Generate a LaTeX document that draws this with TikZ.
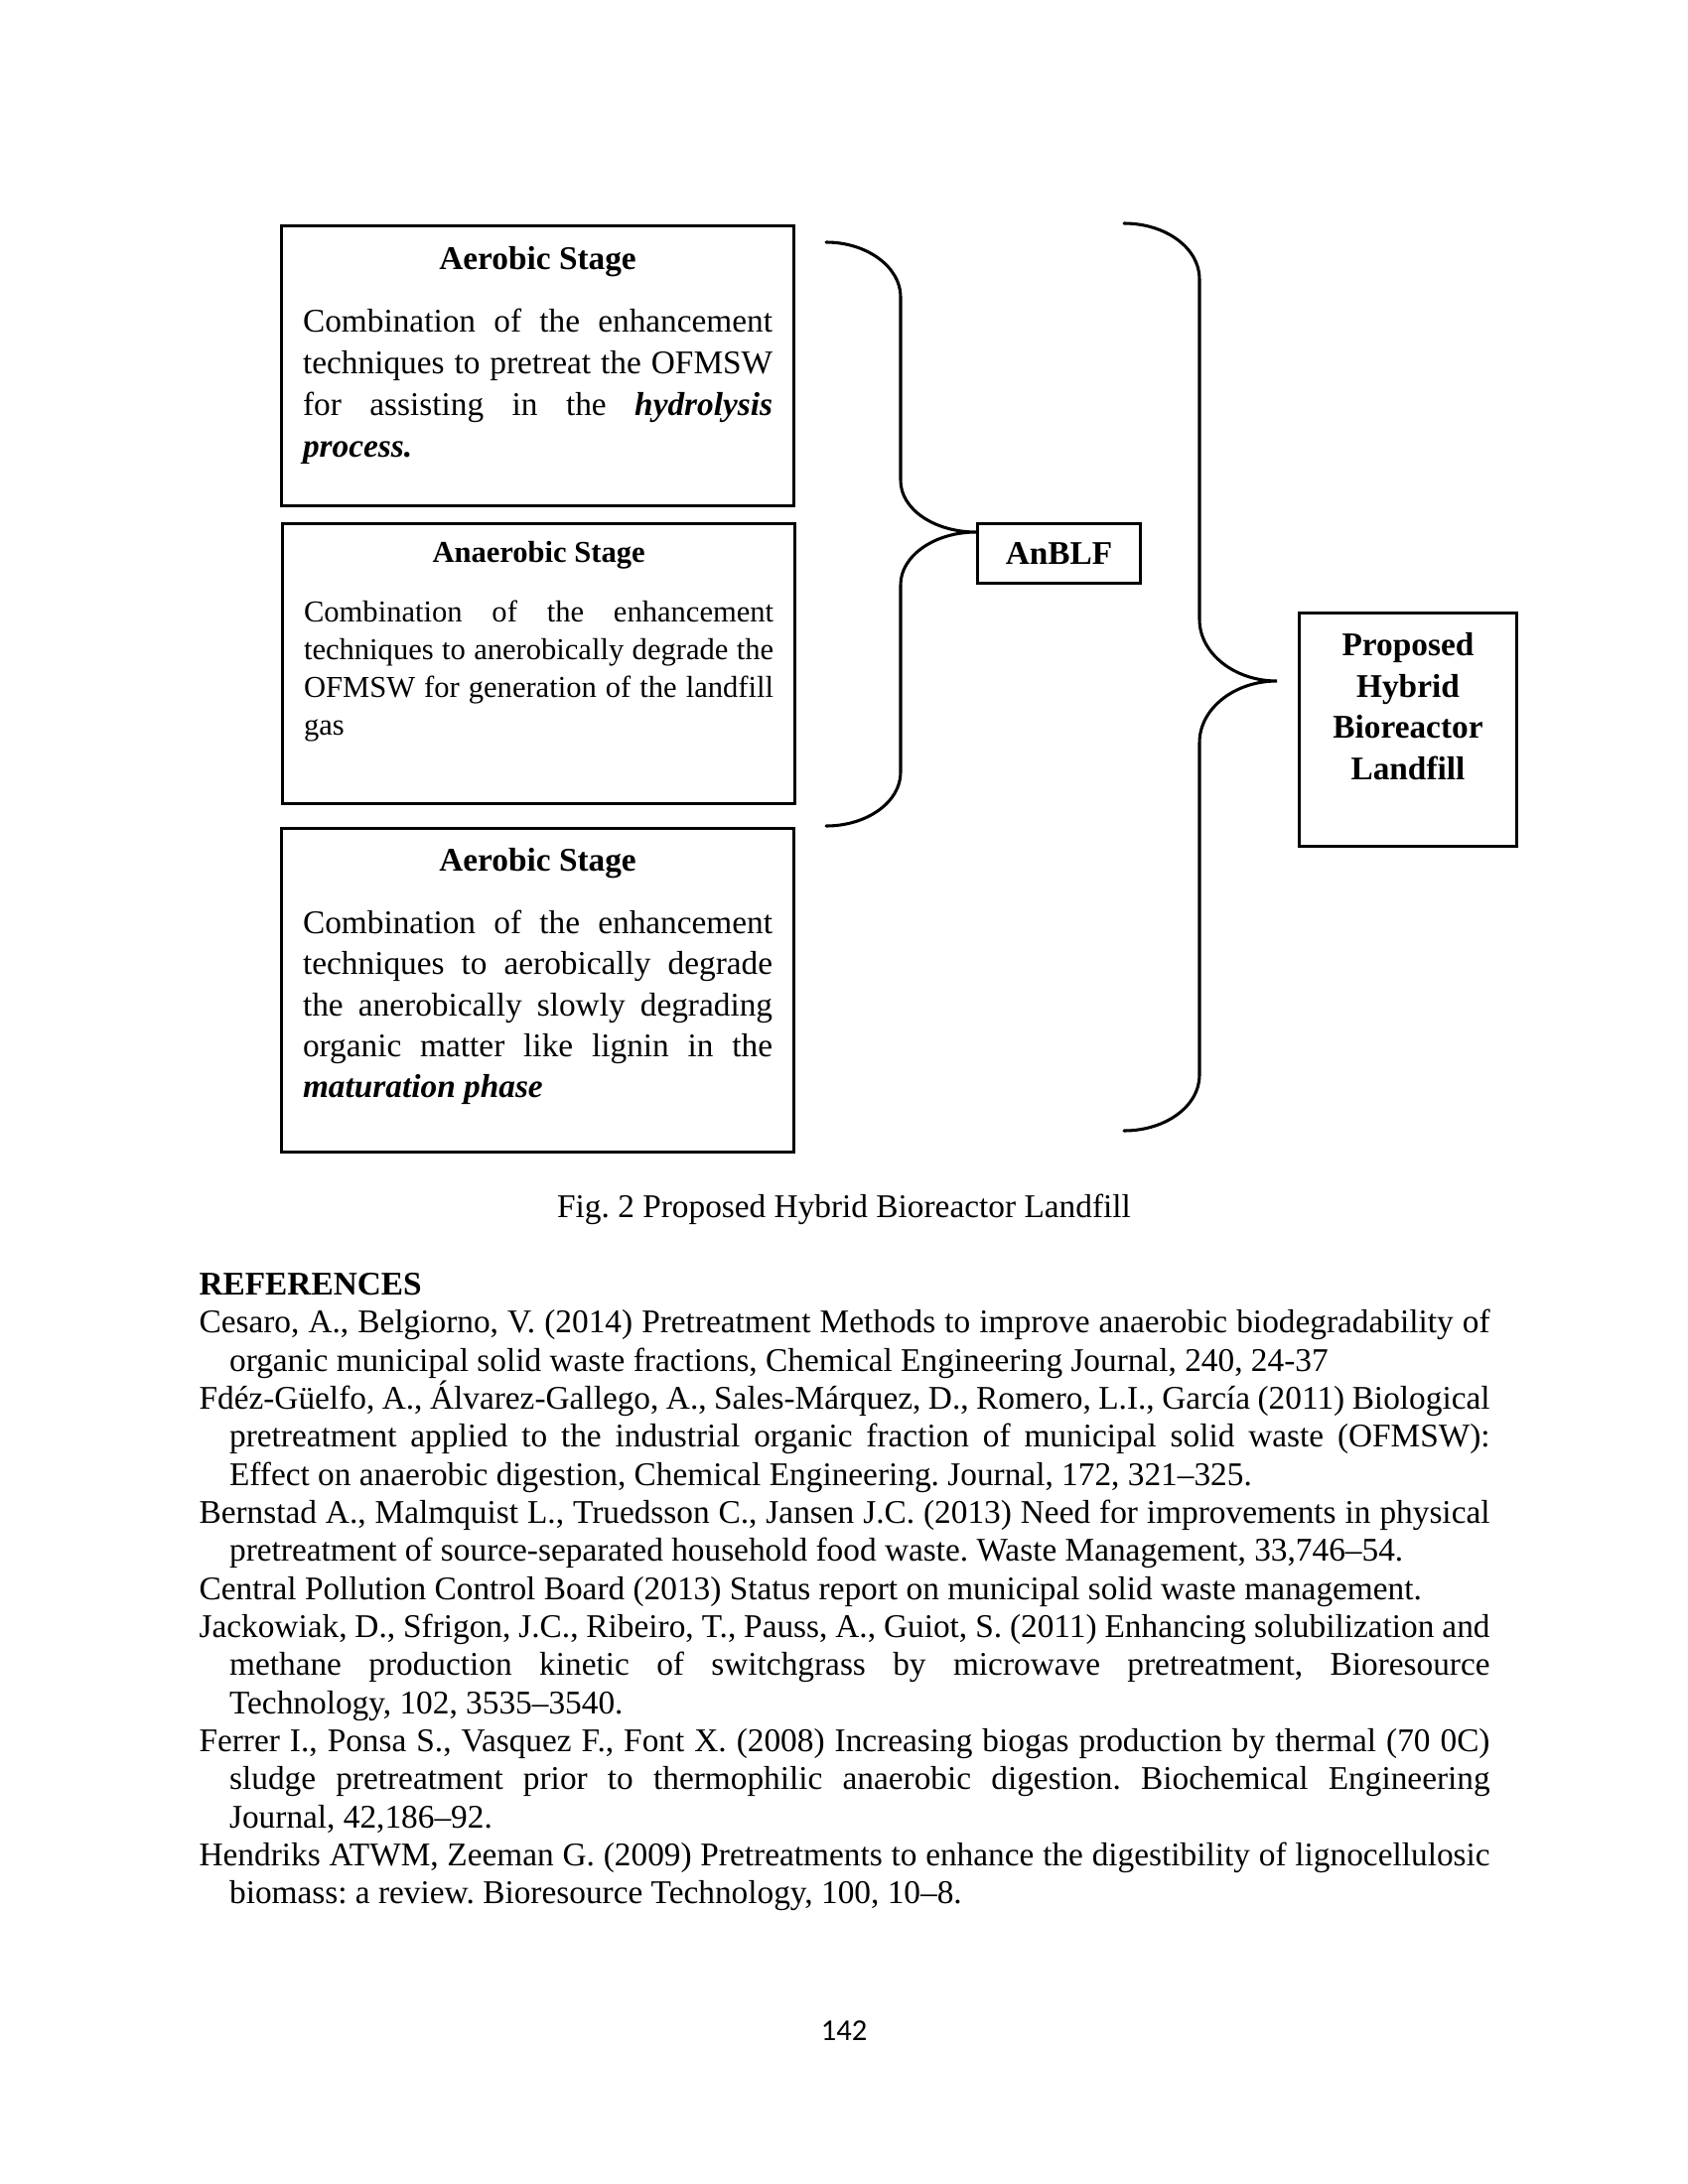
\documentclass[tikz,border=0pt]{standalone}
\usepackage{fontspec}
\setmainfont{Liberation Serif}
\newfontfamily\pagenofont{Carlito}
\usetikzlibrary{calc}
\frenchspacing

\newcommand{\bfit}[1]{\textbf{\textit{#1}}}
% stage box content: height, size, leading, title strut, gap, title, body
\newcommand{\stagecontent}[7]{\parbox[t][#1][t]{170.3pt}{\fontsize{#2}{#3}\selectfont
  {\centering\rule{0pt}{#4}\textbf{#6}\par}\vspace{#5}#7\par}}
\newcommand{\refentry}[1]{\noindent\hangindent=11pt\hangafter=1 #1\par}

\begin{document}
\begin{tikzpicture}[x=0.36pt, y=-0.36pt,
  font=\fontsize{12}{13.8}\selectfont,
  stagebox/.style={draw, line width=1.1pt, inner xsep=7.75pt, inner ysep=0pt,
                   anchor=north west},
  resultbox/.style={draw, line width=1.1pt, inner sep=0pt, anchor=north west,
                    font=\bfseries\fontsize{12}{15}\selectfont},
  brace/.style={line width=1.1pt, line cap=round},
  plain/.style={inner sep=0pt, anchor=base},
]
\useasboundingbox (0,0) rectangle (1700,2200);

%-- LEFT: the three stages
\node[stagebox] (aer1) at (282,226) {\stagecontent{101.5pt}{12}{15.1}{15.8pt}{7.6pt}
  {Aerobic Stage}
  {Combination of the enhancement\linebreak techniques to pretreat the OFMSW\linebreak
   for assisting in the \bfit{hydrolysis}\linebreak \bfit{process.}}};

\node[stagebox] (anaer) at (283,526) {\stagecontent{101.5pt}{11}{13.6}{13.9pt}{8.3pt}
  {Anaerobic Stage}
  {Combination of the enhancement\linebreak techniques to anerobically degrade the\linebreak
   OFMSW for generation of the landfill\linebreak gas}};

\node[stagebox] (aer2) at (282,833) {\stagecontent{117.4pt}{12}{14.9}{15.4pt}{7.8pt}
  {Aerobic Stage}
  {Combination of the enhancement\linebreak techniques to aerobically degrade\linebreak
   the anerobically slowly degrading\linebreak organic matter like lignin in the\linebreak
   \bfit{maturation phase}}};

%-- RIGHT: results
\node[resultbox, minimum width=59pt, minimum height=21.6pt] (anblf) at (983,526) {AnBLF};
\node[resultbox] (hybrid) at (1307,616)
  {\parbox[t][84.6pt][t]{78.8pt}{\centering\rule{0pt}{15.5pt}Proposed\\Hybrid\\Bioreactor\\Landfill}};

%-- Braces
\coordinate (sbtop) at (832,244);
\coordinate (sbbot) at (832,832);
\coordinate (sbtip) at ($(anblf.north west)+(0,10)$);
\coordinate (bbtop) at (1132,225);
\coordinate (bbbot) at (1132,1139);
\coordinate (bbtip) at ($(hybrid.north west)+(-21,70)$);

\draw[brace] (sbtop) .. controls (873,244) and (907,269) .. (907,299)
  -- (907,484) .. controls (907,513) and (941,536) .. (sbtip)
  .. controls (941,536) and (907,560) .. (907,589)
  -- (907,778) .. controls (907,808) and (873,832) .. (sbbot);
\draw[brace] (bbtop) .. controls (1174,225) and (1208,250) .. (1208,281)
  -- (1208,624) .. controls (1208,658) and (1243,686) .. (bbtip)
  .. controls (1243,686) and (1208,714) .. (1208,748)
  -- (1208,1083) .. controls (1208,1114) and (1174,1139) .. (bbbot);

%-- Caption and references
\node[plain] (figcap) at (850,1226) {Fig. 2 Proposed Hybrid Bioreactor Landfill};

\node[inner sep=0pt, anchor=north west] (refs) at (200,1276) {\parbox{468pt}{%
  \tolerance=10000 \hyphenpenalty=10000 \exhyphenpenalty=10000
  \noindent\rule{0pt}{10pt}\textbf{REFERENCES}\par
  \refentry{Cesaro, A., Belgiorno, V. (2014) Pretreatment Methods to improve anaerobic biodegradability of\linebreak
    organic municipal solid waste fractions, Chemical Engineering Journal, 240, 24-37}
  \refentry{Fdéz-Güelfo, A., Álvarez-Gallego, A., Sales-Márquez, D., Romero, L.I., García (2011) Biological\linebreak
    pretreatment applied to the industrial organic fraction of municipal solid waste (OFMSW):\linebreak
    Effect on anaerobic digestion, Chemical Engineering. Journal, 172, 321–325.}
  \refentry{Bernstad A., Malmquist L., Truedsson C., Jansen J.C. (2013) Need for improvements in physical\linebreak
    pretreatment of source-separated household food waste. Waste Management, 33,746–54.}
  \refentry{Central Pollution Control Board (2013) Status report on municipal solid waste management.}
  \refentry{Jackowiak, D., Sfrigon, J.C., Ribeiro, T., Pauss, A., Guiot, S. (2011) Enhancing solubilization and\linebreak
    methane production kinetic of switchgrass by microwave pretreatment, Bioresource\linebreak
    Technology, 102, 3535–3540.}
  \refentry{Ferrer I., Ponsa S., Vasquez F., Font X. (2008) Increasing biogas production by thermal (70 0C)\linebreak
    sludge pretreatment prior to thermophilic anaerobic digestion. Biochemical Engineering\linebreak
    Journal, 42,186–92.}
  \refentry{Hendriks ATWM, Zeeman G. (2009) Pretreatments to enhance the digestibility of lignocellulosic\linebreak
    biomass: a review. Bioresource Technology, 100, 10–8.}}};

\node[plain, font=\pagenofont\fontsize{11}{13}\selectfont] (pageno) at (850,2055) {142};

\end{tikzpicture}
\end{document}
